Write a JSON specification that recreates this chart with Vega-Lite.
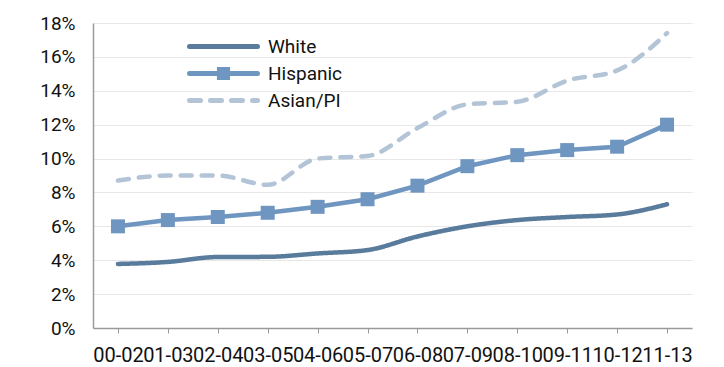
{
  "$schema": "https://vega.github.io/schema/vega-lite/v6.json",
  "width": 599,
  "height": 305,
  "autosize": {"type": "none"},
  "padding": {"left": 93, "top": 23, "right": 32, "bottom": 39},
  "background": "#ffffff",
  "config": {
    "view": {"stroke": null},
    "font": "Roboto",
    "axis": {"labelFont": "Roboto", "labelFontSize": 19, "labelColor": "#111111", "domainColor": "#9a9a9a", "tickColor": "#9a9a9a", "gridColor": "#e8e8e8", "title": null},
    "legend": {"labelFont": "Roboto", "labelFontSize": 19, "labelColor": "#111111"}
  },
  "data": {"values": [
    {"period": "00-02", "group": "White", "rate": 0.0378},
    {"period": "01-03", "group": "White", "rate": 0.0390},
    {"period": "02-04", "group": "White", "rate": 0.0419},
    {"period": "03-05", "group": "White", "rate": 0.0420},
    {"period": "04-06", "group": "White", "rate": 0.0440},
    {"period": "05-07", "group": "White", "rate": 0.0460},
    {"period": "06-08", "group": "White", "rate": 0.0540},
    {"period": "07-09", "group": "White", "rate": 0.0600},
    {"period": "08-10", "group": "White", "rate": 0.0637},
    {"period": "09-11", "group": "White", "rate": 0.0655},
    {"period": "10-12", "group": "White", "rate": 0.0670},
    {"period": "11-13", "group": "White", "rate": 0.0730},
    {"period": "00-02", "group": "Hispanic", "rate": 0.0600},
    {"period": "01-03", "group": "Hispanic", "rate": 0.0637},
    {"period": "02-04", "group": "Hispanic", "rate": 0.0655},
    {"period": "03-05", "group": "Hispanic", "rate": 0.0680},
    {"period": "04-06", "group": "Hispanic", "rate": 0.0715},
    {"period": "05-07", "group": "Hispanic", "rate": 0.0760},
    {"period": "06-08", "group": "Hispanic", "rate": 0.0840},
    {"period": "07-09", "group": "Hispanic", "rate": 0.0955},
    {"period": "08-10", "group": "Hispanic", "rate": 0.1020},
    {"period": "09-11", "group": "Hispanic", "rate": 0.1050},
    {"period": "10-12", "group": "Hispanic", "rate": 0.1070},
    {"period": "11-13", "group": "Hispanic", "rate": 0.1200},
    {"period": "00-02", "group": "Asian/PI", "rate": 0.0870},
    {"period": "01-03", "group": "Asian/PI", "rate": 0.0900},
    {"period": "02-04", "group": "Asian/PI", "rate": 0.0900},
    {"period": "03-05", "group": "Asian/PI", "rate": 0.0845},
    {"period": "04-06", "group": "Asian/PI", "rate": 0.1000},
    {"period": "05-07", "group": "Asian/PI", "rate": 0.1015},
    {"period": "06-08", "group": "Asian/PI", "rate": 0.1180},
    {"period": "07-09", "group": "Asian/PI", "rate": 0.1320},
    {"period": "08-10", "group": "Asian/PI", "rate": 0.1335},
    {"period": "09-11", "group": "Asian/PI", "rate": 0.1460},
    {"period": "10-12", "group": "Asian/PI", "rate": 0.1520},
    {"period": "11-13", "group": "Asian/PI", "rate": 0.1740}
  ]},
  "encoding": {
    "x": {"field": "period", "type": "ordinal", "sort": null,
      "scale": {"type": "point", "padding": 0.5},
      "axis": {"labelAngle": 0, "labelOverlap": false, "labelFontSize": 20, "tickSize": 5, "labelPadding": 12, "grid": false, "domainWidth": 1.5}},
    "y": {"field": "rate", "type": "quantitative",
      "scale": {"domain": [0, 0.18], "nice": false},
      "axis": {"values": [0, 0.02, 0.04, 0.06, 0.08, 0.1, 0.12, 0.14, 0.16, 0.18], "format": ".0%", "ticks": false, "labelPadding": 18, "grid": true, "gridWidth": 1, "domainWidth": 1.5}}
  },
  "layer": [
    {
      "transform": [{"filter": "datum.group !== 'Hispanic'"}],
      "mark": {"type": "line", "interpolate": "monotone", "strokeWidth": 4.5, "strokeCap": "round"},
      "encoding": {
        "color": {"field": "group", "type": "nominal",
          "scale": {"domain": ["White", "Hispanic", "Asian/PI"], "range": ["#5a7c9c", "#6f96c0", "#b3c4d7"]},
          "legend": {"title": null, "orient": "none", "legendX": 94, "legendY": 10, "symbolType": "stroke", "symbolSize": 4624, "symbolStrokeWidth": 5, "labelOffset": 8, "rowPadding": 0, "clipHeight": 27,
            "encode": {"symbols": {"update": {
              "shape": {"signal": "datum.value === 'Hispanic' ? 'M-1,0H1M-0.12,-0.12H0.12V0.12H-0.12Z' : 'M-1,0H1'"},
              "fill": {"signal": "datum.value === 'Hispanic' ? '#6f96c0' : 'transparent'"},
              "strokeCap": {"value": "round"}
            }}}}},
        "strokeDash": {"field": "group", "type": "nominal",
          "scale": {"domain": ["White", "Hispanic", "Asian/PI"], "range": [[1, 0], [1, 0], [11, 10]]},
          "legend": null}
      }
    },
    {
      "transform": [{"filter": "datum.group === 'Hispanic'"}],
      "mark": {"type": "line", "interpolate": "linear", "strokeWidth": 4.5, "strokeCap": "round"},
      "encoding": {"color": {"field": "group", "type": "nominal"}}
    },
    {
      "transform": [{"filter": "datum.group === 'Hispanic'"}],
      "mark": {"type": "point", "shape": "square", "filled": true, "size": 196, "opacity": 1},
      "encoding": {"color": {"field": "group", "type": "nominal", "legend": null}}
    }
  ]
}
